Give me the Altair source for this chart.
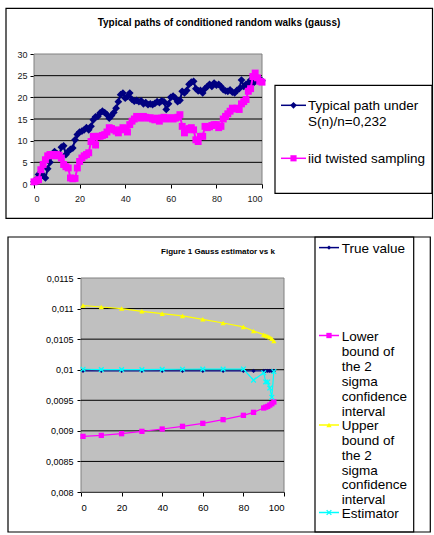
import altair as alt
import pandas as pd

FONT = "Liberation Sans"

# ---------------- top chart data ----------------
steps = list(range(0, 101))
typical_path = [
    0.5, 1, 2.2, 2.5, 2, 1.4, 3.5, 5, 6.8, 7.5,
    7, 6.4, 8.5, 8.8, 6.8, 7.5, 8, 8.3, 10.2, 11.4,
    12, 12.2, 12.5, 13, 12.5, 13.3, 14.8, 15.5, 15.6, 16.4,
    16.8, 16.5, 16, 15.2, 15.8, 16.5, 17.5, 19, 20.6, 21,
    19.8, 20.2, 21, 19.5, 19.1, 19.3, 19, 19.2, 18.5, 18.8,
    18.3, 18.5, 18.3, 18.6, 19, 18.8, 19.2, 19, 17.2, 18.5,
    20, 20.3, 19.8, 19, 19.3, 21.4, 21, 21.6, 23, 23.5,
    23.7, 22, 21.5, 21.6, 21, 22, 22.5, 23, 22.5, 23.3,
    22.8, 23, 22.5, 21.8, 21.5, 21.4, 21.7, 21.2, 21, 21.6,
    22, 24, 22.5, 23, 23.3, 24, 23.2, 23.8, 24.5, 24.2,
    23.8,
]
twisted_sampling = [
    0.5, 0.7, 1, 3.3, 4.5, 5.6, 6.5, 6.8, 6.8, 6.5,
    6.8, 6.6, 6, 4.5, 4, 3.7, 1.4, 1.2, 1.3, 3.7,
    5.2, 6, 6.5, 6.8, 7.2, 9.8, 11, 9, 11, 11,
    11.2, 11.4, 12, 13, 12.8, 12.5, 12.2, 11.8, 12.5, 13,
    12.8, 12, 13.7, 14.5, 15, 15.6, 15.5, 15.2, 15.6, 15.4,
    15.2, 15.3, 15, 14.8, 15.2, 14.5, 15.2, 15.4, 15, 15.2,
    15.3, 15, 15.2, 15.4, 16, 13.3, 11.8, 12.5, 12.8, 13,
    12.5, 10.2, 9.8, 11, 11, 13.3, 13, 13.2, 13.5, 13.7,
    13.7, 13, 13.3, 15, 15.6, 16.2, 16.8, 17.5, 17.3, 17.5,
    17.2, 18.5, 19, 19.5, 21.4, 22, 24.8, 25.6, 24.5, 23.7,
    23.5,
]
top_title = "Typical paths of conditioned random walks (gauss)"
top_labels = [["Typical path under", "S(n)/n=0,232"], ["iid twisted sampling"]]
top_x_ticks = [0, 20, 40, 60, 80, 100]
top_y_ticks = [0, 5, 10, 15, 20, 25, 30]

# ---------------- bottom chart data ----------------
k_values = [1, 10, 20, 30, 40, 50, 60, 70, 80, 85, 90, 91, 92, 93, 94, 95]
true_value = [0.00998, 0.00998, 0.00998, 0.00998, 0.00998, 0.00998, 0.00998, 0.00998,
              0.00998, 0.00998, 0.00998, 0.00998, 0.00998, 0.00998, 0.00998, 0.00998]
lower_bound = [0.00891, 0.008926, 0.008954, 0.008992, 0.00903, 0.009074, 0.009123, 0.009183,
               0.009254, 0.009303, 0.009374, 0.009388, 0.0094, 0.009422, 0.009444, 0.009472]
upper_bound = [0.01105, 0.011026, 0.011, 0.010955, 0.010917, 0.01088, 0.010824, 0.010764,
               0.0107, 0.010633, 0.010573, 0.01056, 0.010546, 0.01053, 0.010508, 0.01047]
estimator = [0.010008, 0.010002, 0.010002, 0.010002, 0.010005, 0.010008, 0.01001, 0.01001,
             0.010012, 0.00983, 0.00995, 0.0098, 0.0098, 0.0097, 0.00955, 0.00997]
bottom_title = "Figure 1 Gauss estimator vs k"
bottom_labels = [
    ["True value"],
    ["Lower", "bound of", "the 2", "sigma", "confidence", "interval"],
    ["Upper", "bound of", "the 2", "sigma", "confidence", "interval"],
    ["Estimator"],
]
bottom_x_ticks = [0, 20, 40, 60, 80, 100]
bottom_y_ticks = [0.008, 0.0085, 0.009, 0.0095, 0.01, 0.0105, 0.011, 0.0115]

NAVY = "#000080"
MAGENTA = "#FF00FF"
YELLOW = "#FFFF00"
CYAN = "#00FFFF"
PLOT_BG = "#C0C0C0"
XSHAPE = "M-1,-1L1,1M-1,1L1,-1"

one = pd.DataFrame({"a": [0]})


def box(x1, x2, y1, y2, width=1.2, fill=None, stroke="black"):
    kw = dict(stroke=stroke, strokeWidth=width)
    if fill is None:
        m = alt.Chart(one).mark_rect(fill="transparent", **kw)
    else:
        m = alt.Chart(one).mark_rect(fill=fill, **kw)
    return m.encode(x=alt.value(x1), x2=alt.value(x2), y=alt.value(y1), y2=alt.value(y2))


def legend_entry(color, shape, filled, size, x1, x2, y, tx, lines, fs, lh):
    rule = alt.Chart(one).mark_rule(color=color, strokeWidth=1.5).encode(
        x=alt.value(x1), x2=alt.value(x2), y=alt.value(y))
    pt = alt.Chart(one).mark_point(shape=shape, filled=filled, color=color, size=size,
                                   opacity=1, strokeWidth=1.3).encode(
        x=alt.value((x1 + x2) / 2), y=alt.value(y))
    txt = alt.Chart(one).mark_text(align="left", baseline="top", font=FONT, fontSize=fs,
                                   lineHeight=lh, color="black").encode(
        x=alt.value(tx), y=alt.value(y - 0.43 * fs), text=alt.value(lines))
    return [rule, pt, txt]


# ---------------- top chart (plot at x 0..228 of its view) ----------------
top_df = pd.concat([
    pd.DataFrame({"step": steps, "value": typical_path, "series": "typical"}),
    pd.DataFrame({"step": steps, "value": twisted_sampling, "series": "twisted"}),
])
top_grid = pd.DataFrame({"value": top_y_ticks[1:-1]})

t_xscale = alt.Scale(domain=[0, 100], nice=False, range=[0, 228])
t_yscale = alt.Scale(domain=[0, 30], nice=False)
t_xaxis = alt.Axis(values=top_x_ticks, title=None, grid=False, labelPadding=6,
                   labelFontSize=9, labelColor="#202020")
t_yaxis = alt.Axis(values=top_y_ticks, title=None, grid=False, labelPadding=3,
                   labelFontSize=9, labelColor="#202020")
tx = alt.X("step:Q", scale=t_xscale, axis=t_xaxis)
ty = alt.Y("value:Q", scale=t_yscale, axis=t_yaxis)

tbase = alt.Chart(top_df)
t_layers = [
    box(0, 228, 0, 130, width=1, fill=PLOT_BG, stroke="#808080"),
    alt.Chart(top_grid).mark_rule(color="black", strokeWidth=1).encode(
        y=ty, x=alt.value(0), x2=alt.value(228)),
    tbase.transform_filter("datum.series == 'typical'").mark_line(color=NAVY, strokeWidth=2)
    .encode(x=tx, y=ty),
    tbase.transform_filter("datum.series == 'typical'").mark_point(
        shape="diamond", filled=True, color=NAVY, size=60, opacity=1).encode(x=tx, y=ty),
    tbase.transform_filter("datum.series == 'twisted'").mark_line(color=MAGENTA, strokeWidth=2)
    .encode(x=tx, y=ty),
    tbase.transform_filter("datum.series == 'twisted'").mark_point(
        shape="square", filled=True, color=MAGENTA, size=48, opacity=1).encode(x=tx, y=ty),
    box(-28, 398.5, -45.7, 164.3),
    box(241, 398, 31.3, 139.3),
    alt.Chart(one).mark_text(font=FONT, fontSize=10, fontWeight="bold", color="black",
                             baseline="middle").encode(
        x=alt.value(185), y=alt.value(-31), text=alt.value(top_title)),
]
t_layers += legend_entry(NAVY, "diamond", True, 45, 247, 272, 51.3, 274, top_labels[0], 13.5, 16)
t_layers += legend_entry(MAGENTA, "square", True, 38, 247, 272, 104.3, 274, top_labels[1], 13.5, 16)

top_chart = alt.layer(*t_layers).properties(width=228, height=130)

# ---------------- bottom chart (plot at x 47..250 of its view) ----------------
SH = 47
bot_df = pd.concat([
    pd.DataFrame({"k": k_values, "value": true_value, "series": "true"}),
    pd.DataFrame({"k": k_values, "value": lower_bound, "series": "lower"}),
    pd.DataFrame({"k": k_values, "value": upper_bound, "series": "upper"}),
    pd.DataFrame({"k": k_values, "value": estimator, "series": "est"}),
])
bot_grid = pd.DataFrame({"value": bottom_y_ticks[1:-1]})

b_xscale = alt.Scale(domain=[0, 100], nice=False, range=[SH, SH + 203])
b_yscale = alt.Scale(domain=[0.008, 0.0115], nice=False, zero=False)
b_xaxis = alt.Axis(values=bottom_x_ticks, title=None, grid=False, labelPadding=6,
                   labelFontSize=9.5)
b_yaxis = alt.Axis(values=bottom_y_ticks, title=None, grid=False, labelPadding=4,
                   labelFontSize=9, offset=-SH,
                   labelExpr="replace(format(datum.value, '.4~f'), '.', ',')")
bx = alt.X("k:Q", scale=b_xscale, axis=b_xaxis)
by = alt.Y("value:Q", scale=b_yscale, axis=b_yaxis)

bbase = alt.Chart(bot_df)


def series_layers(name, color, shape, filled, size):
    d = bbase.transform_filter(f"datum.series == '{name}'")
    return [
        d.mark_line(color=color, strokeWidth=1.2).encode(x=bx, y=by),
        d.mark_point(shape=shape, filled=filled, color=color, size=size, opacity=1,
                     strokeWidth=1.3).encode(x=bx, y=by),
    ]


b_layers = [
    box(SH, SH + 203, 0, 214, width=1, fill=PLOT_BG, stroke="#808080"),
    alt.Chart(bot_grid).mark_rule(color="black", strokeWidth=1).encode(
        y=by, x=alt.value(SH), x2=alt.value(SH + 203)),
]
b_layers += series_layers("true", NAVY, "diamond", True, 18)
b_layers += series_layers("lower", MAGENTA, "square", True, 28)
b_layers += series_layers("upper", YELLOW, "triangle-up", True, 28)
b_layers += series_layers("est", CYAN, XSHAPE, False, 22)
b_layers += [
    box(-73 + SH, 349.3 + SH, -41, 254),
    box(234 + SH, 332.7 + SH, -41, 254),
    alt.Chart(one).mark_text(font=FONT, fontSize=8, fontWeight="bold", color="black",
                             baseline="middle").encode(
        x=alt.value(137 + SH), y=alt.value(-26), text=alt.value(bottom_title)),
]
lx1, lx2, ltx = 238 + SH, 258 + SH, 260.7 + SH
b_layers += legend_entry(NAVY, "diamond", True, 18, lx1, lx2, -30.4, ltx, bottom_labels[0], 13.5, 15)
b_layers += legend_entry(MAGENTA, "square", True, 28, lx1, lx2, 57.5, ltx, bottom_labels[1], 13.5, 15)
b_layers += legend_entry(YELLOW, "triangle-up", True, 28, lx1, lx2, 147, ltx, bottom_labels[2], 13.5, 14.8)
b_layers += legend_entry(CYAN, XSHAPE, False, 22, lx1, lx2, 234.5, ltx, bottom_labels[3], 13.5, 15)

bottom_chart = alt.layer(*b_layers).properties(width=SH + 203, height=214)

chart = alt.vconcat(top_chart, bottom_chart, spacing=17).properties(
    padding={"left": 5, "top": 7, "right": 0, "bottom": 0},
    background="white",
).configure_view(
    fill="transparent", stroke="transparent", strokeWidth=0
).configure_axis(
    labelFont=FONT, labelColor="black", domainColor="black", tickColor="black",
    tickSize=4, domainWidth=1, zindex=1,
)

chart.save("out.html", embed_options={"renderer": "svg", "actions": False})
